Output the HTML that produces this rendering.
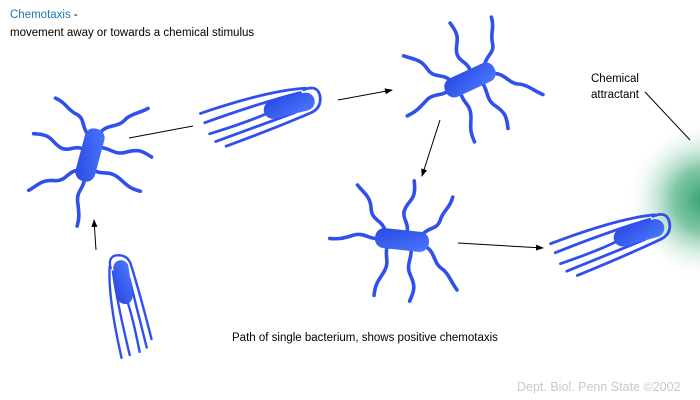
<!DOCTYPE html>
<html><head><meta charset="utf-8"><style>
html,body{margin:0;padding:0;background:#fff}
svg{display:block}
text{font-family:"Liberation Sans",sans-serif}
</style></head><body>
<svg width="700" height="400" viewBox="0 0 700 400">
<defs>
<radialGradient id="attr" cx="705" cy="200" r="80" gradientUnits="userSpaceOnUse">
<stop offset="0" stop-color="#2e9e70"/><stop offset="0.4" stop-color="#6cbd98" stop-opacity="0.85"/><stop offset="1" stop-color="#fff" stop-opacity="0"/>
</radialGradient>
<linearGradient id="bod" x1="0" y1="0" x2="1" y2="1">
<stop offset="0" stop-color="#2a48e0"/><stop offset="1" stop-color="#4a78ff"/>
</linearGradient>
<marker id="ah" markerWidth="8" markerHeight="8" refX="7" refY="4" orient="auto"><path d="M0,1 L8,4 L0,7 Z" fill="#000"/></marker>
<g id="tumble">
<g fill="none" stroke="#3050ee" stroke-width="3.6" stroke-linecap="round">
<path d="M-18,-8 c-4,-10 -14,-8 -16,-20 s-8,-14 -16,-22"/>
<path d="M4,-8 c2,-10 -8,-14 -4,-24 s10,-10 6,-28"/>
<path d="M20,-8 c6,-8 14,-6 16,-16 s8,-12 10,-24"/>
<path d="M-22,0 c-10,4 -16,-4 -26,0 s-14,6 -24,6"/>
<path d="M-14,8 c-2,10 4,14 0,24 s-8,12 -8,26"/>
<path d="M10,8 c2,10 -4,16 2,26 s6,14 2,26"/>
<path d="M24,4 c10,4 10,16 18,20 s12,14 18,20"/>
</g>
<rect x="-27" y="-10" width="54" height="20" rx="9" fill="url(#bod)"/>
</g>
<g id="run">
<g fill="none" stroke="#3050ee" stroke-width="2.8" stroke-linecap="round">
<path d="M44,-12 Q60,-14 58,0 Q56,10 46,12"/>
<path d="M46,-13 Q10,-20 -62,-14"/>
<path d="M40,-10 Q0,-10 -60,-4"/>
<path d="M30,-8 Q20,4 -58,8"/>
<path d="M30,8 Q10,10 -54,17"/>
<path d="M46,12 Q10,18 -45,24"/>
</g>
<rect x="0" y="-9" width="52" height="18" rx="9" fill="url(#bod)"/>
</g>
</defs>
<rect x="600" y="100" width="100" height="200" fill="url(#attr)"/>
<text x="10" y="18" font-size="11.5" fill="#1f77b8">Chemotaxis <tspan fill="#000">-</tspan></text>
<text x="10" y="36" font-size="11.5" fill="#000">movement away or towards a chemical stimulus</text>
<text x="591" y="82" font-size="11.5">Chemical</text>
<text x="591" y="98" font-size="11.5">attractant</text>
<line x1="645" y1="92" x2="690" y2="140" stroke="#000" stroke-width="1"/>
<text x="232" y="341" font-size="11.5">Path of single bacterium, shows positive chemotaxis</text>
<text x="517" y="391" font-size="12.5" fill="#c8c8c8">Dept. Biol. Penn State ©2002</text>
<g stroke="#000" stroke-width="1">
<line x1="96" y1="250" x2="94" y2="220" marker-end="url(#ah)"/>
<line x1="129" y1="138" x2="193" y2="126"/>
<line x1="338" y1="100" x2="392" y2="90" marker-end="url(#ah)"/>
<line x1="440" y1="120" x2="422" y2="176" marker-end="url(#ah)"/>
<line x1="458" y1="243" x2="543" y2="248" marker-end="url(#ah)"/>
</g>
<use href="#tumble" transform="translate(90,155) rotate(-75)"/>
<use href="#run" transform="translate(264,112) rotate(-14)"/>
<use href="#tumble" transform="translate(470,80) rotate(-25)"/>
<use href="#tumble" transform="translate(402,240) rotate(6)"/>
<use href="#run" transform="translate(614,240) rotate(-16)"/>
<use href="#run" transform="translate(126,304) rotate(-98) scale(0.85)"/>
</svg>
</body></html>
